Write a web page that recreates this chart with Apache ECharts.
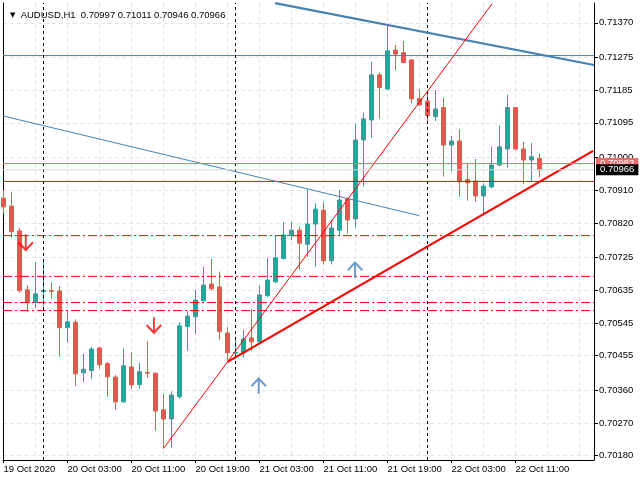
<!DOCTYPE html>
<html><head><meta charset="utf-8">
<script src="https://cdn.jsdelivr.net/npm/echarts@6/dist/echarts.min.js"></script>
<style>html,body{margin:0;padding:0;background:#fff}#c{width:640px;height:480px}</style>
</head><body><div id="c"></div>
<script>
// ---- data ----
const headerText = 'AUDUSD,H1  0.70997 0.71011 0.70946 0.70966';
// hourly bars from 19 Oct 2020 19:00: [open, close, low, high]
const ohlc = [
[0.70888,0.70864,0.70846,0.70910],[0.70866,0.70796,0.70780,0.70905],[0.70798,0.70634,0.70628,0.70807],
[0.70636,0.70601,0.70576,0.70648],[0.70601,0.70625,0.70587,0.70713],[0.70631,0.70634,0.70592,0.70718],
[0.70634,0.70632,0.70612,0.70656],[0.70633,0.70532,0.70452,0.70647],[0.70532,0.70548,0.70491,0.70581],
[0.70547,0.70405,0.70372,0.70555],[0.70408,0.70418,0.70383,0.70460],[0.70414,0.70473,0.70391,0.70480],
[0.70476,0.70430,0.70419,0.70480],[0.70433,0.70397,0.70342,0.70438],[0.70396,0.70328,0.70306,0.70402],
[0.70328,0.70427,0.70326,0.70475],[0.70424,0.70375,0.70364,0.70465],[0.70376,0.70411,0.70364,0.70435],
[0.70409,0.70407,0.70394,0.70495],[0.70407,0.70303,0.70248,0.70408],[0.70306,0.70281,0.70200,0.70350],
[0.70281,0.70347,0.70202,0.70357],[0.70342,0.70537,0.70336,0.70547],[0.70535,0.70564,0.70468,0.70578],
[0.70562,0.70608,0.70515,0.70636],[0.70606,0.70649,0.70604,0.70699],[0.70652,0.70639,0.70634,0.70721],
[0.70644,0.70521,0.70499,0.70686],[0.70517,0.70463,0.70443,0.70533],[0.70462,0.70464,0.70448,0.70505],
[0.70463,0.70501,0.70450,0.70527],[0.70504,0.70493,0.70468,0.70583],[0.70493,0.70622,0.70491,0.70647],
[0.70620,0.70663,0.70617,0.70724],[0.70658,0.70724,0.70655,0.70786],[0.70722,0.70787,0.70720,0.70823],
[0.70785,0.70800,0.70773,0.70823],[0.70800,0.70764,0.70692,0.70810],[0.70761,0.70817,0.70727,0.70912],
[0.70817,0.70858,0.70700,0.70874],[0.70855,0.70716,0.70706,0.70876],[0.70716,0.70806,0.70706,0.70828],
[0.70800,0.70883,0.70787,0.70910],[0.70886,0.70828,0.70791,0.70889],[0.70831,0.71048,0.70807,0.71092],
[0.71048,0.71106,0.70920,0.71124],[0.71103,0.71227,0.71054,0.71263],[0.71227,0.71192,0.71106,0.71233],
[0.71188,0.71293,0.71186,0.71364],[0.71295,0.71284,0.71240,0.71309],[0.71288,0.71261,0.71260,0.71320],
[0.71268,0.71161,0.71149,0.71270],[0.71162,0.71144,0.71143,0.71187],[0.71155,0.71115,0.71092,0.71178],
[0.71112,0.71133,0.71100,0.71185],[0.71137,0.71034,0.70947,0.71164],[0.71034,0.71045,0.70961,0.71059],
[0.71045,0.70933,0.70892,0.71078],[0.70939,0.70930,0.70881,0.70984],[0.70935,0.70894,0.70878,0.70996],
[0.70894,0.70921,0.70846,0.70929],[0.70919,0.70979,0.70915,0.71029],[0.70979,0.71029,0.70976,0.71088],
[0.71023,0.71137,0.70972,0.71172],[0.71137,0.71023,0.71020,0.71138],[0.71023,0.70993,0.70927,0.71043],
[0.70993,0.71002,0.70933,0.71040],[0.70997,0.70966,0.70946,0.71011]
];
const yTickValues = [0.70180,0.70270,0.70360,0.70455,0.70545,0.70635,0.70725,0.70820,0.70910,0.71000,0.71095,0.71185,0.71275,0.71370];
const xTickIndex = [0,8,16,24,32,40,48,56,64];
const xTickLabels = ['19 Oct 2020','20 Oct 03:00','20 Oct 11:00','20 Oct 19:00','21 Oct 03:00','21 Oct 11:00','21 Oct 19:00','22 Oct 03:00','22 Oct 11:00'];
const xGridIndex = [4,8,12,16,20,24,28,32,36,40,44,48,52,56,60,64,68,72];
const daySeparators = [5,29,53];
const levelBlue = 0.71280;
const levelRed = 0.70934;
const levelsDashDot = [0.70785,0.70673,0.70601,0.70579];
const priceAsk = 0.70983;
const priceBid = 0.70966;
const trendBlueThick = [[33.94,0.71424],[73.81,0.71254]];
const trendBlueThin = [[-0.06,0.71114],[51.94,0.70840]];
const trendRedThin = [[20,0.70200],[61.06,0.71422]];
const trendRedThick = [[28.0,0.70438],[73.7,0.71018]];
const arrowsDown = [[2.78,0.70765],[18.8,0.70537]];
const arrowsUp = [[31.9,0.70373],[43.94,0.70692]];

// ---- view ----
const yMin = 0.701682, yMax = 0.714245;
const xMin = -0.0625, xMax = 73.8125;
const FONT = 'Liberation Sans';
const UP = '#26a69a', DOWN = '#ef5350';
const ARROW_DOWN = 'path://M7,0 L9,0 L9,13 L15,7 L16.5,8.5 L8,17 L-0.5,8.5 L1,7 L7,13 Z';
const ARROW_UP = 'path://M7,17 L9,17 L9,4 L15,10 L16.5,8.5 L8,0 L-0.5,8.5 L1,10 L7,4 Z';

const chart = echarts.init(document.getElementById('c'), null, {renderer: 'canvas'});
const hline = (v, color, type, z, labelBg) => ({
  type: 'line', data: [[xMin, v], [xMax, v]], showSymbol: false, silent: true, z,
  lineStyle: {color, width: 1, type},
  endLabel: labelBg ? {
    show: true, distance: 2, formatter: () => v.toFixed(5),
    backgroundColor: labelBg, color: '#fff', fontFamily: FONT, fontSize: 9.5,
    padding: [1, 4, 0, 4], lineHeight: 10
  } : {show: false}
});
const vline = (x) => ({
  type: 'line', data: [[x, yMin], [x, yMax]], showSymbol: false, silent: true, z: 5,
  lineStyle: {color: '#000', width: 1, type: [3, 3]}
});
const trend = (data, color, width) => ({
  type: 'line', data, showSymbol: false, silent: true, clip: true, z: 6,
  lineStyle: {color, width}
});

chart.setOption({
  animation: false,
  title: {
    text: '{t|▼}  ' + headerText, left: 5, top: 5,
    textStyle: {fontFamily: FONT, fontSize: 9.5, fontWeight: 'normal', color: '#000',
      rich: {t: {fontFamily: 'DejaVu Sans', fontSize: 7, color: '#000'}}}
  },
  grid: {left: 3, right: 46, top: 3, bottom: 20, containLabel: false},
  xAxis: [{
    type: 'value', min: xMin, max: xMax, position: 'bottom',
    axisLine: {show: true, onZero: false, lineStyle: {color: '#000', width: 1}},
    axisTick: {show: true, customValues: xTickIndex, length: 3, lineStyle: {color: '#000'}},
    axisLabel: {customValues: xTickIndex, formatter: v => xTickLabels[xTickIndex.indexOf(Math.round(v))] || '',
      align: 'left', margin: 4, color: '#000', fontFamily: FONT, fontSize: 9.5, hideOverlap: false},
    splitLine: {show: false}
  }, {
    type: 'value', min: xMin, max: xMax, position: 'bottom',
    axisLine: {show: false}, axisLabel: {show: false},
    axisTick: {show: false, customValues: xGridIndex},
    splitLine: {show: true, lineStyle: {color: '#e4e4e4', width: 1, type: [4, 3]}}
  }],
  yAxis: [{
    type: 'value', min: yMin, max: yMax, position: 'right',
    axisLine: {show: true, onZero: false, lineStyle: {color: '#000', width: 1}},
    axisTick: {show: true, customValues: yTickValues, length: 4, lineStyle: {color: '#000'}},
    axisLabel: {customValues: yTickValues, formatter: v => v.toFixed(5), margin: 5, color: '#000',
      fontFamily: FONT, fontSize: 9.5},
    splitLine: {show: true, lineStyle: {color: '#e4e4e4', width: 1, type: [4, 3]}}
  }, {
    type: 'value', min: yMin, max: yMax, position: 'left',
    axisLine: {show: true, onZero: false, lineStyle: {color: '#000', width: 1}},
    axisTick: {show: false}, axisLabel: {show: false}, splitLine: {show: false}
  }],
  series: [
    {
      type: 'candlestick', xAxisIndex: 0, yAxisIndex: 0,
      data: ohlc.map((d, i) => [i, d[0], d[1], d[2], d[3]]),
      encode: {x: 0, y: [1, 2, 3, 4]},
      barWidth: 4, silent: true, large: false, z: 2,
      itemStyle: {color: UP, color0: DOWN, borderColor: UP, borderColor0: DOWN, borderWidth: 1}
    },
    hline(levelBlue, '#4682b4', 'solid', 5),
    ...levelsDashDot.map(v => hline(v, '#ff0000', [9, 3, 2, 3], 5)),
    hline(levelRed, '#ff0000', 'solid', 5),
    ...daySeparators.map(vline),
    hline(priceAsk, '#ec6a6a', 'solid', 8, '#ec6a6a'),
    hline(priceBid, '#d9d9d9', 'solid', 9, '#000000'),
    trend(trendBlueThin, '#4682b4', 1),
    trend(trendBlueThick, '#4682b4', 2.2),
    trend(trendRedThin, '#ff0000', 1),
    trend(trendRedThick, '#ff0000', 2.2),
    {type: 'scatter', data: arrowsDown, symbol: ARROW_DOWN, symbolSize: [16, 17], symbolKeepAspect: true,
      itemStyle: {color: '#ff0000'}, silent: true, z: 7},
    {type: 'scatter', data: arrowsUp, symbol: ARROW_UP, symbolSize: [16, 17], symbolKeepAspect: true,
      itemStyle: {color: '#4a86c5'}, silent: true, z: 7}
  ]
});
</script></body></html>
